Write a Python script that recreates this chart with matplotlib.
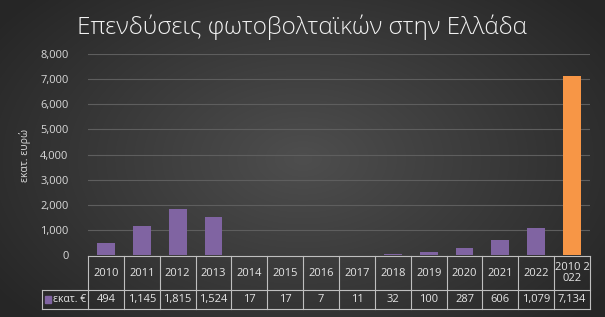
import numpy as np
import matplotlib
matplotlib.use("Agg")
import matplotlib.pyplot as plt
import matplotlib.transforms as mtransforms
from matplotlib.patches import Rectangle

categories = ["2010", "2011", "2012", "2013", "2014", "2015", "2016", "2017",
              "2018", "2019", "2020", "2021", "2022", "2010 2\n022"]
values = [494, 1145, 1815, 1524, 17, 17, 7, 11, 32, 100, 287, 606, 1079, 7134]
value_labels = ["494", "1,145", "1,815", "1,524", "17", "17", "7", "11",
                "32", "100", "287", "606", "1,079", "7,134"]
series_name = "εκατ. €"
title = "Επενδύσεις φωτοβολταϊκών στην Ελλάδα"
ylabel = "εκατ. ευρώ"
yticks = [0, 1000, 2000, 3000, 4000, 5000, 6000, 7000, 8000]

plt.rcParams['font.family'] = ['Open Sans', 'DejaVu Sans']

W, H = 605, 317
fig = plt.figure(figsize=(W / 100, H / 100), dpi=100)

# radial gradient background
bg = fig.add_axes([0, 0, 1, 1], zorder=-10)
yy, xx = np.mgrid[0:H, 0:W]
r = np.sqrt(((xx - W * 0.5) / (W * 0.62)) ** 2 + ((yy - H * 0.5) / (H * 0.75)) ** 2)
r = np.clip(r, 0, 1)
c0 = np.array([0x4e, 0x4e, 0x4e]) / 255
c1 = np.array([0x26, 0x26, 0x26]) / 255
img = c0[None, None, :] * (1 - r[..., None]) + c1[None, None, :] * r[..., None]
bg.imshow(img, aspect='auto', extent=[0, 1, 0, 1])
bg.axis('off')

def fy(py):
    return 1 - py / H

def fx(px):
    return px / W

ax = fig.add_axes([fx(88), fy(255), fx(590) - fx(88), fy(54) - fy(255)])
ax.set_facecolor('none')
x = np.arange(len(categories))
colors = ['#8064A2'] * (len(values) - 1) + ['#F79646']
ax.bar(x, values, width=0.5, color=colors, zorder=3)
ax.set_xlim(-0.5, len(categories) - 0.5)
ax.set_ylim(0, 8000)
ax.set_yticks(yticks)
ax.set_yticklabels([f"{v:,}" for v in yticks], color='#d9d9d9', fontsize=8)
ax.tick_params(axis='y', length=0, pad=14)
ax.set_xticks([])
ax.yaxis.grid(True, color='#5e5e5e', linewidth=0.8, zorder=0)
for s in ax.spines.values():
    s.set_visible(False)

fig.text(fx(25), fy(155), ylabel, rotation=90, color='#d9d9d9', fontsize=7.5,
         ha='center', va='center')
fig.text(fx(302), fy(27), title, color='#f2f2f2', fontsize=17.5, ha='center',
         va='center', fontweight='light')

# table
tr = mtransforms.blended_transform_factory(ax.transData, fig.transFigure)
lc = '#bfbfbf'
lw = 0.8
y_top, y_mid, y_bot = fy(256), fy(290), fy(309)
n = len(categories)
ax.plot([-0.5, n - 0.5], [y_top, y_top], transform=tr, color=lc, lw=lw, clip_on=False)
for yv in (y_mid, y_bot):
    fig.add_artist(plt.Line2D([fx(42), fx(590)], [yv, yv], color=lc, lw=lw))
for i in range(n + 1):
    ax.plot([i - 0.5, i - 0.5], [y_top, y_bot], transform=tr, color=lc, lw=lw, clip_on=False)
fig.add_artist(plt.Line2D([fx(42), fx(42)], [y_mid, y_bot], color=lc, lw=lw))
for i in range(n):
    ax.text(i, (y_top + y_mid) / 2, categories[i], transform=tr, ha='center',
            va='center', color='#e6e6e6', fontsize=8, linespacing=1.1, clip_on=False)
    ax.text(i, (y_mid + y_bot) / 2, value_labels[i], transform=tr, ha='center',
            va='center', color='#e6e6e6', fontsize=8, clip_on=False)
fig.add_artist(Rectangle((fx(45), fy(303)), fx(6), fy(0) - fy(7), color='#8064A2'))
fig.text(fx(53), (y_mid + y_bot) / 2, series_name, color='#e6e6e6', fontsize=7.5,
         ha='left', va='center')

fig.savefig("out.png", dpi=100)
